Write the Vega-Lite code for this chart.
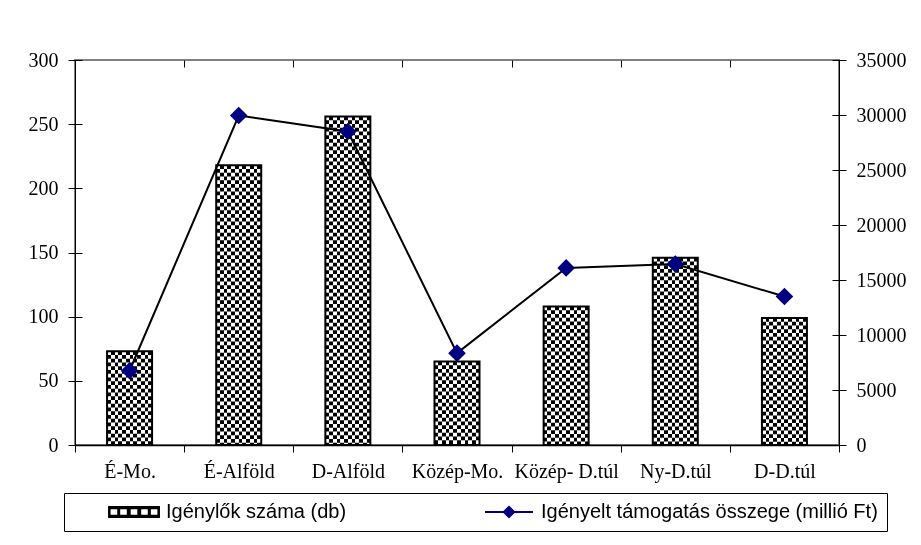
{
  "$schema": "https://vega.github.io/schema/vega-lite/v6.json",
  "width": 764,
  "height": 385,
  "autosize": {"type": "none"},
  "padding": {"left": 75, "top": 60, "right": 82, "bottom": 100},
  "background": "white",
  "data": {
    "values": [
      {"regio": "É-Mo.", "igenylok": 73, "osszeg": 6750},
      {"regio": "É-Alföld", "igenylok": 218, "osszeg": 29950},
      {"regio": "D-Alföld", "igenylok": 256, "osszeg": 28500},
      {"regio": "Közép-Mo.", "igenylok": 65, "osszeg": 8350},
      {"regio": "Közép- D.túl", "igenylok": 108, "osszeg": 16100},
      {"regio": "Ny-D.túl", "igenylok": 146, "osszeg": 16450},
      {"regio": "D-D.túl", "igenylok": 99, "osszeg": 13500}
    ]
  },
  "layer": [
    {
      "layer": [
        {
          "mark": {
            "type": "bar",
            "width": 45,
            "fill": {
              "gradient": "linear",
              "x1": 0, "y1": 0, "x2": 1, "y2": 0,
              "stops": [
                {"offset": 0, "color": "black"}, {"offset": 0.0833, "color": "black"},
                {"offset": 0.0833, "color": "white"}, {"offset": 0.1667, "color": "white"},
                {"offset": 0.1667, "color": "black"}, {"offset": 0.25, "color": "black"},
                {"offset": 0.25, "color": "white"}, {"offset": 0.3333, "color": "white"},
                {"offset": 0.3333, "color": "black"}, {"offset": 0.4167, "color": "black"},
                {"offset": 0.4167, "color": "white"}, {"offset": 0.5, "color": "white"},
                {"offset": 0.5, "color": "black"}, {"offset": 0.5833, "color": "black"},
                {"offset": 0.5833, "color": "white"}, {"offset": 0.6667, "color": "white"},
                {"offset": 0.6667, "color": "black"}, {"offset": 0.75, "color": "black"},
                {"offset": 0.75, "color": "white"}, {"offset": 0.8333, "color": "white"},
                {"offset": 0.8333, "color": "black"}, {"offset": 0.9167, "color": "black"},
                {"offset": 0.9167, "color": "white"}, {"offset": 1, "color": "white"}
              ]
            }
          },
          "encoding": {
            "x": {
              "field": "regio", "type": "nominal", "sort": null,
              "scale": {"paddingInner": 0, "paddingOuter": 0},
              "axis": {
                "title": null, "labelAngle": 0, "labelOverlap": false,
                "tickBand": "extent", "grid": true, "gridDash": [7, 2000],
                "gridColor": "black", "gridOpacity": 1, "gridWidth": 1,
                "labelFont": "Liberation Serif", "labelFontSize": 20, "labelColor": "black",
                "labelPadding": 9, "tickSize": 7, "tickColor": "black",
                "domainColor": "black", "domainWidth": 1.5
              }
            },
            "y": {
              "field": "igenylok", "type": "quantitative",
              "scale": {"domain": [0, 300], "nice": false},
              "axis": {
                "orient": "left", "title": null,
                "values": [0, 50, 100, 150, 200, 250, 300],
                "grid": true, "gridDash": [7, 2000], "gridColor": "black",
                "gridOpacity": 1, "gridWidth": 1,
                "labelFont": "Liberation Serif", "labelFontSize": 20, "labelColor": "black",
                "labelPadding": 10, "tickSize": 7, "tickColor": "black",
                "domainColor": "black", "domainWidth": 1
              }
            }
          }
        },
        {
          "mark": {
            "type": "rule",
            "stroke": "white",
            "strokeWidth": 45,
            "strokeDash": [3.75, 3.75],
            "blend": "difference"
          },
          "encoding": {
            "x": {"field": "regio", "type": "nominal", "sort": null},
            "y": {"field": "igenylok", "type": "quantitative"},
            "y2": {"datum": 0}
          }
        },
        {
          "mark": {
            "type": "bar",
            "width": 45,
            "fill": null,
            "fillOpacity": 0,
            "stroke": "black",
            "strokeWidth": 2
          },
          "encoding": {
            "x": {"field": "regio", "type": "nominal", "sort": null},
            "y": {"field": "igenylok", "type": "quantitative"}
          }
        }
      ]
    },
    {
      "layer": [
        {
          "mark": {"type": "line", "color": "black", "strokeWidth": 2},
          "encoding": {
            "x": {"field": "regio", "type": "nominal", "sort": null},
            "y": {
              "field": "osszeg", "type": "quantitative",
              "scale": {"domain": [0, 35000], "nice": false},
              "axis": {
                "orient": "right", "title": null,
                "values": [0, 5000, 10000, 15000, 20000, 25000, 30000, 35000],
                "format": "d",
                "grid": true, "gridDash": [7, 2000], "gridColor": "black",
                "gridOpacity": 1, "gridWidth": 1,
                "labelFont": "Liberation Serif", "labelFontSize": 20, "labelColor": "black",
                "labelPadding": 10, "tickSize": 7, "tickColor": "black",
                "domainColor": "black", "domainWidth": 1
              }
            }
          }
        },
        {
          "mark": {"type": "point", "shape": "diamond", "filled": true, "color": "#000080", "size": 310, "opacity": 1},
          "encoding": {
            "x": {"field": "regio", "type": "nominal", "sort": null},
            "y": {"field": "osszeg", "type": "quantitative"}
          }
        }
      ]
    },
    {
      "data": {
        "values": [
          {"sorozat": "Igénylők száma (db)"},
          {"sorozat": "Igényelt támogatás összege (millió Ft)"}
        ]
      },
      "mark": {"type": "point", "filled": true, "opacity": 0},
      "encoding": {
        "shape": {
          "field": "sorozat", "type": "nominal",
          "scale": {
            "domain": ["Igénylők száma (db)", "Igényelt támogatás összege (millió Ft)"],
            "range": [
              "M-4.33,-1H4.33V1H-4.33Z M-3.9,-0.45V0.45H-2.8V-0.45Z M-2.3,-0.45V0.45H-1.2V-0.45Z M-0.55,-0.45V0.45H0.55V-0.45Z M1.2,-0.45V0.45H2.3V-0.45Z M2.8,-0.45V0.45H3.9V-0.45Z",
              "M-4,-0.17H4V0.17H-4Z M-1.1,0L0,-1.1L1.1,0L0,1.1Z"
            ]
          },
          "legend": {
            "orient": "none", "legendX": -11, "legendY": 433,
            "direction": "horizontal", "columns": 2, "title": null,
            "strokeColor": "black", "padding": 9,
            "symbolSize": 144, "symbolOffset": 51, "labelOffset": 22,
            "labelFont": "Liberation Sans", "labelFontSize": 20, "labelColor": "black",
            "labelExpr": "datum.value == 'Igényelt támogatás összege (millió Ft)' ? datum.label + '\u00a0\u00a0\u00a0\u00a0' : datum.label",
            "labelLimit": 600, "columnPadding": 101, "symbolOpacity": 1, "symbolStrokeWidth": 0
          }
        },
        "fill": {
          "field": "sorozat", "type": "nominal",
          "scale": {
            "domain": ["Igénylők száma (db)", "Igényelt támogatás összege (millió Ft)"],
            "range": ["black", "#000080"]
          },
          "legend": {
            "orient": "none", "legendX": -11, "legendY": 433,
            "direction": "horizontal", "columns": 2, "title": null,
            "strokeColor": "black", "padding": 9,
            "symbolSize": 144, "symbolOffset": 51, "labelOffset": 22,
            "labelFont": "Liberation Sans", "labelFontSize": 20, "labelColor": "black",
            "labelExpr": "datum.value == 'Igényelt támogatás összege (millió Ft)' ? datum.label + '\u00a0\u00a0\u00a0\u00a0' : datum.label",
            "labelLimit": 600, "columnPadding": 103, "symbolOpacity": 1, "symbolStrokeWidth": 0
          }
        }
      }
    }
  ],
  "resolve": {"scale": {"y": "independent"}},
  "config": {
    "view": {"stroke": "#808080", "strokeWidth": 2},
    "axis": {"labelFont": "Liberation Serif"}
  }
}
